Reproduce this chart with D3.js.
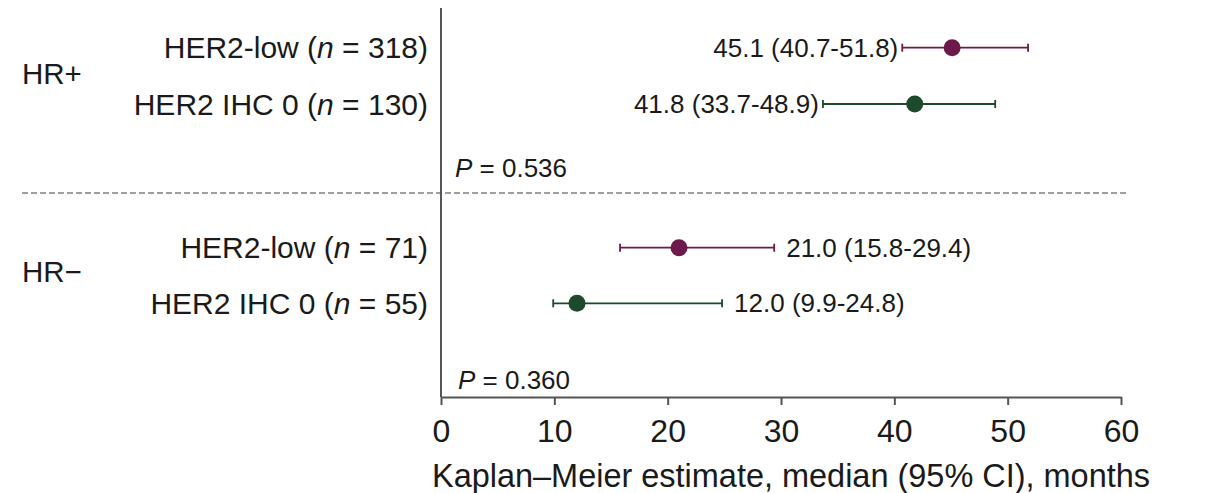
<!DOCTYPE html>
<html>
<head>
<meta charset="utf-8">
<script src="https://cdn.jsdelivr.net/npm/d3@7"></script>
<style>
html,body{margin:0;padding:0;background:#fff;}
svg{display:block;font-family:"Liberation Sans",Arial,Helvetica,sans-serif;}
</style>
</head>
<body>
<svg id="chart" width="1210" height="493"></svg>
<script>
// Data
const groups = ["HR+", "HR−"];
const rowLabels = ["HER2-low", "HER2 IHC 0", "HER2-low", "HER2 IHC 0"];
const rowN = [318, 130, 71, 55];
const rowGroup = ["HR+", "HR+", "HR−", "HR−"];
const medians = [45.1, 41.8, 21.0, 12.0];
const ciLow = [40.7, 33.7, 15.8, 9.9];
const ciHigh = [51.8, 48.9, 29.4, 24.8];
const rowType = ["low", "zero", "low", "zero"];
const pValues = ["0.536", "0.360"];
const xTicks = [0, 10, 20, 30, 40, 50, 60];
const xTitle = "Kaplan–Meier estimate, median (95% CI), months";

const colors = {low: "#6d1a4a", zero: "#1c4a2b"};

const svg = d3.select("#chart");
const x = d3.scaleLinear().domain([0, 60]).range([441, 1121]);
const yPos = {r0: 47.7, r1: 104, p0: 168, r2: 247.7, r3: 303.3, p1: 380};
const groupY = {"HR+": 74, "HR−": 272};
const rowKeys = ["r0","r1","r2","r3"];

// dashed separator
svg.append("line")
  .attr("x1", 22).attr("x2", 1127)
  .attr("y1", 193).attr("y2", 193)
  .attr("stroke", "#808080").attr("stroke-width", 1.5)
  .attr("stroke-dasharray", "6,3");

// y axis line
svg.append("line")
  .attr("x1", x(0)).attr("x2", x(0))
  .attr("y1", 8).attr("y2", 397)
  .attr("stroke", "#555").attr("stroke-width", 2);

// x axis
const axisG = svg.append("g").attr("transform", "translate(0,397)")
  .call(d3.axisBottom(x).tickValues(xTicks).tickSize(8).tickPadding(14).tickSizeOuter(0));
axisG.select(".domain").attr("stroke", "#555").attr("stroke-width", 2);
axisG.selectAll(".tick line").attr("stroke", "#555").attr("stroke-width", 2);
axisG.selectAll(".tick text")
  .attr("font-family", "'Liberation Sans',Arial,sans-serif")
  .attr("font-size", 32).attr("fill", "#1a1a1a");

// axis title
svg.append("text")
  .attr("x", 432).attr("y", 487)
  .attr("font-size", 32.5).attr("fill", "#1a1a1a")
  .attr("textLength", 718).attr("lengthAdjust", "spacingAndGlyphs")
  .text(xTitle);

// group labels
svg.selectAll(".grp").data(groups).join("text")
  .attr("class", "grp")
  .attr("x", 22).attr("y", d => groupY[d])
  .attr("dy", "0.35em")
  .attr("font-size", 29.5).attr("fill", "#1a1a1a")
  .text(d => d);

// row labels
const rl = svg.selectAll(".rowlab").data(rowKeys).join("text")
  .attr("class", "rowlab")
  .attr("x", 428).attr("y", d => yPos[d])
  .attr("dy", "0.35em")
  .attr("text-anchor", "end")
  .attr("font-size", 30).attr("fill", "#1a1a1a");
rl.each(function(d, i) {
  const t = d3.select(this);
  t.append("tspan").text(rowLabels[i] + " (");
  t.append("tspan").attr("font-style", "italic").text("n");
  t.append("tspan").text(" = " + rowN[i] + ")");
});

// CI lines
const rows = rowKeys.map((k, i) => ({k, i, m: medians[i], lo: ciLow[i], hi: ciHigh[i], type: rowType[i], grp: rowGroup[i]}));
const rg = svg.selectAll(".row").data(rows).join("g").attr("class", "row");
rg.append("line")
  .attr("x1", d => x(d.lo)).attr("x2", d => x(d.hi))
  .attr("y1", d => yPos[d.k]).attr("y2", d => yPos[d.k])
  .attr("stroke", d => colors[d.type]).attr("stroke-width", 1.8);
rg.append("line")
  .attr("x1", d => x(d.lo)).attr("x2", d => x(d.lo))
  .attr("y1", d => yPos[d.k] - 4).attr("y2", d => yPos[d.k] + 4)
  .attr("stroke", d => colors[d.type]).attr("stroke-width", 1.8);
rg.append("line")
  .attr("x1", d => x(d.hi)).attr("x2", d => x(d.hi))
  .attr("y1", d => yPos[d.k] - 4).attr("y2", d => yPos[d.k] + 4)
  .attr("stroke", d => colors[d.type]).attr("stroke-width", 1.8);
rg.append("circle")
  .attr("cx", d => x(d.m)).attr("cy", d => yPos[d.k])
  .attr("r", 8.5)
  .attr("fill", d => colors[d.type]);

// value labels
rg.append("text")
  .attr("x", d => d.grp === "HR+" ? x(d.lo) - 4 : x(d.hi) + 12)
  .attr("y", d => yPos[d.k])
  .attr("dy", "0.35em")
  .attr("text-anchor", d => d.grp === "HR+" ? "end" : "start")
  .attr("font-size", 26).attr("fill", "#1a1a1a")
  .text(d => d.m.toFixed(1) + " (" + d.lo.toFixed(1) + "-" + d.hi.toFixed(1) + ")");

// p-values
const pKeys = ["p0", "p1"];
const pX = [455, 458];
svg.selectAll(".pval").data(pValues).join("text")
  .attr("class", "pval")
  .attr("x", (d, i) => pX[i]).attr("y", (d, i) => yPos[pKeys[i]])
  .attr("dy", "0.35em")
  .attr("font-size", 26).attr("fill", "#1a1a1a")
  .each(function(d) {
    const t = d3.select(this);
    t.append("tspan").attr("font-style", "italic").text("P");
    t.append("tspan").text(" = " + d);
  });
</script>
</body>
</html>
